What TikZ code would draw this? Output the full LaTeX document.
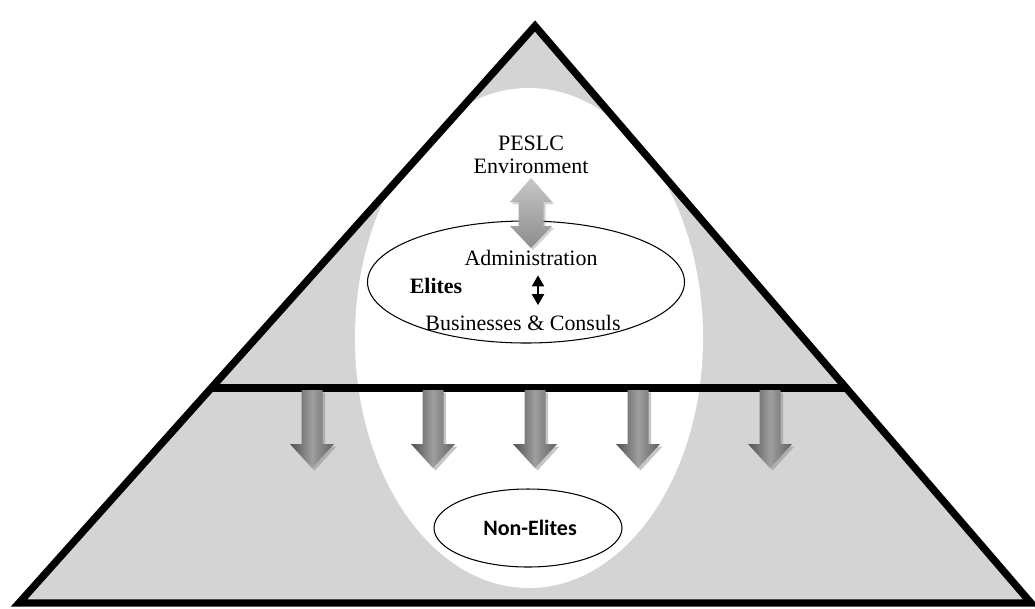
\documentclass[tikz,border=0pt]{standalone}
\usepackage{fontspec}
\setmainfont{Liberation Serif}
\newfontfamily\labelsans{Carlito}
\usetikzlibrary{shapes.geometric,calc,shadows,arrows.meta}

\begin{document}
\begin{tikzpicture}[x=0.2mm,y=-0.2mm,
  layerfill/.style={fill=black!17},
  pyramidline/.style={line width=4.2pt,line join=miter},
  whiteoval/.style={ellipse,fill=white,minimum width=69.6mm,minimum height=100mm,inner sep=0pt},
  groupoval/.style={ellipse,draw,line width=0.6pt,inner sep=0pt},
  serifbox/.style={font=\fontsize{12.5}{14}\selectfont,inner sep=1pt},
  flowarrow/.style={draw=none,left color=black!68,right color=black!62,middle color=black!38,
    drop shadow={opacity=0.45,shadow xshift=0.5mm,shadow yshift=-0.5mm}},
  linkarrow/.style={draw=none,top color=black!22,bottom color=black!45,
    drop shadow={opacity=0.35,shadow xshift=0.4mm,shadow yshift=-0.4mm}},
  pairarrow/.style={{Triangle[width=2.4mm,length=2.2mm]}-{Triangle[width=2.4mm,length=2.2mm]},line width=1.1pt},
]
\useasboundingbox (0,0) rectangle (1035,608);

% Pyramid corners
\coordinate (apex) at (535,26);
\coordinate (bl) at (19,603);
\coordinate (br) at (1031,603);
\coordinate (divl) at ($(apex)!0.6274!(bl)$);
\coordinate (divr) at ($(apex)!0.6274!(br)$);

\fill[layerfill] (apex) -- (bl) -- (br) -- cycle;
\begin{scope}
  \clip (apex) -- (bl) -- (br) -- cycle;
  \node[whiteoval] (core) at (529,338) {};
\end{scope}
\draw[line width=4.2pt] (divl) -- (divr);
\draw[pyramidline] (apex) -- (bl) -- (br) -- cycle;

% Upper layer: environment and elites
\node[serifbox,align=center] (env) at (531,155) {PESLC\\[-1pt]Environment};
\node[groupoval,minimum width=63.4mm,minimum height=24.4mm] (eliteoval) at (526,282) {};
\node[serifbox] (admin) at (531,258) {Administration};
\node[serifbox] (business) at (523,323) {Businesses \& Consuls};
\node[serifbox,font=\fontsize{12.5}{14}\selectfont\bfseries] (elites) at (436,286) {Elites};

\path[linkarrow] (531,178) -- (552,202) -- (543.5,202) -- (543.5,226) -- (552,226) -- (531,248)
  -- (510,226) -- (518.5,226) -- (518.5,202) -- (510,202) -- cycle;

\coordinate (pairx) at (538,0);
\draw[pairarrow] ([yshift=-1.5mm]admin.south -| pairx) -- ([yshift=1.6mm]business.north -| pairx);

% Lower layer: flow down to non-elites
\foreach \ax in {312,433,535,638,770}
  \path[flowarrow] (\ax-10.5,390) -- (\ax+10.5,390) -- (\ax+10.5,444) -- (\ax+22,444) -- (\ax,468)
    -- (\ax-22,444) -- (\ax-10.5,444) -- cycle;

\node[groupoval,minimum width=37.6mm,minimum height=15.6mm] (nonoval) at (528,528) {};
\node[font=\labelsans\fontsize{12.5}{14}\selectfont\bfseries] (nonelites) at (530,528) {Non-Elites};

\end{tikzpicture}
\end{document}
